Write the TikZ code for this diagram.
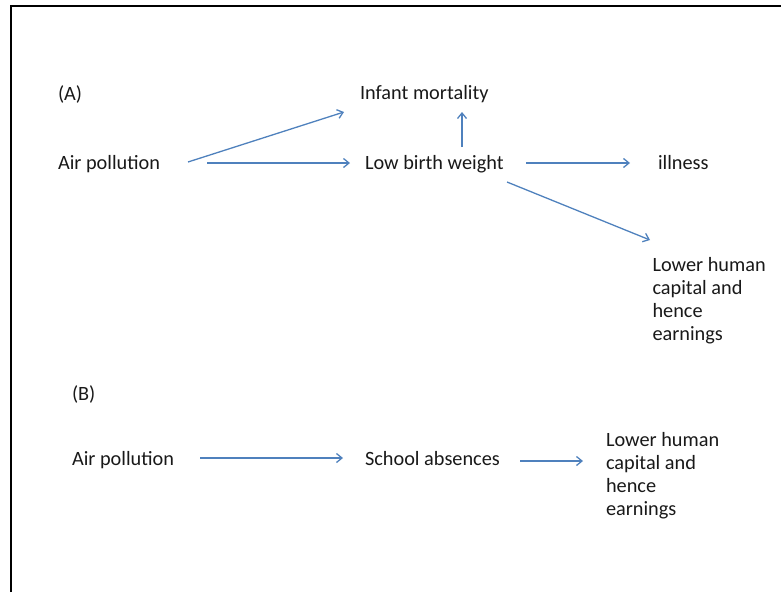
\documentclass[tikz,border=0pt]{standalone}
\usepackage{fontspec}
\setmainfont{Carlito}
\usetikzlibrary{arrows.meta,calc}
\definecolor{arrblue}{RGB}{79,129,189}
\tikzset{
  lbl/.style={inner sep=0pt, outer sep=0pt, anchor=base west, font=\fontsize{20.3}{23}\selectfont, text=black!90},
  mlbl/.style={inner sep=0pt, outer sep=0pt, anchor=north west, align=left, font=\fontsize{20.3}{23}\selectfont, text=black!90},
  arr/.style={draw=arrblue, line width=1.3pt, -{Straight Barb[length=5.5pt,width=9pt,line width=1.3pt]}},
  frame/.style={draw=black, line width=2pt}
}
\begin{document}
\begin{tikzpicture}[x=1pt,y=-1pt]
\useasboundingbox (0,0) rectangle (781,592);
\draw[frame] (10.5,592) -- (10.5,5.5) -- (781,5.5);
% Part A
\node[lbl] (la) at (58,100) {(A)};
\node[lbl] (ap1) at (58,169.5) {Air pollution};
\node[lbl] (im) at (360,99.5) {Infant mortality};
\node[lbl] (lbw) at (365,169) {Low birth weight};
\node[lbl] (ill) at (658,169.5) {illness};
\node[mlbl] (lha) at (652.5,257) {Lower human\\capital and\\hence\\earnings};
% Part B
\node[lbl] (lb) at (72,400.5) {(B)};
\node[lbl] (ap2) at (72,465) {Air pollution};
\node[lbl] (sa) at (365,465) {School absences};
\node[mlbl] (lhb) at (606,432) {Lower human\\capital and\\hence\\earnings};
% Arrows A
\draw[arr] ($(ap1.base west)+(130,-7.5)$) -- ($(im.base west)+(-16,12.5)$);
\draw[arr] ($(ap1.base west)+(149,-6.5)$) -- ($(lbw.base west)+(-15,-6)$);
\draw[arr] ($(lbw.base west)+(97,-22)$) -- ($(im.base west)+(102,12.5)$);
\draw[arr] ($(lbw.base west)+(161,-6)$) -- ($(ill.base west)+(-28,-6.5)$);
\draw[arr] ($(lbw.base west)+(142,13)$) -- ($(lha.north west)+(-2.5,-17)$);
% Arrows B
\draw[arr] ($(ap2.base west)+(128,-7)$) -- ($(sa.base west)+(-22,-7)$);
\draw[arr] ($(sa.base west)+(155,-4)$) -- ($(lhb.north west)+(-23,29)$);
\end{tikzpicture}
\end{document}
